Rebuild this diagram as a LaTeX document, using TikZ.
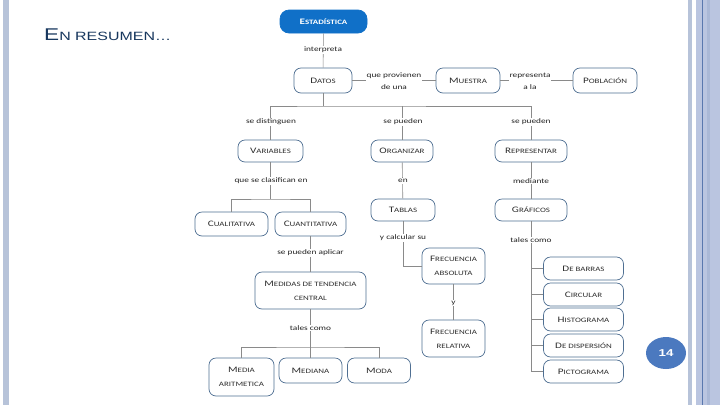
\documentclass[tikz,border=0pt]{standalone}
\usepackage{fontspec}
\setmainfont{Carlito}[FakeStretch=1.33]
\newfontfamily\titlefont{Liberation Sans}[FakeStretch=1.33]
\usetikzlibrary{shapes.geometric}

\definecolor{cajaborde}{HTML}{4F6F92}
\definecolor{cajatexto}{HTML}{2E2E2E}
\definecolor{etiquetatexto}{HTML}{222222}
\definecolor{linea}{HTML}{8A8A8A}
\definecolor{estadazul}{HTML}{1070C8}
\definecolor{titulo}{HTML}{17375E}
\definecolor{numazul}{HTML}{4B79BF}
\definecolor{bordeclaro}{HTML}{B7C3D9}
\definecolor{bordeazul}{HTML}{BAC5E0}
\definecolor{bordemedio}{HTML}{AAB8D6}
\definecolor{bordeoscuro}{HTML}{5A78AE}

\newcommand{\kap}[2]{{\fontsize{8.4}{14}\selectfont #1}{\fontsize{6.7}{14}\selectfont #2}}

\tikzset{
  caja/.style={draw=cajaborde, line width=0.7pt, rounded corners=7pt, fill=white,
    text=cajatexto, align=center, inner sep=0pt, font=\fontsize{6.7}{14}\selectfont},
  etiqueta/.style={fill=white, text=etiquetatexto, inner sep=1pt, align=center,
    font=\fontsize{7}{12}\selectfont},
  enlace/.style={draw=linea, line width=0.6pt},
  numpag/.style={ellipse, fill=numazul, text=white, inner sep=0pt,
    minimum width=40pt, minimum height=32pt, font=\titlefont\bfseries\fontsize{10}{12}\selectfont},
}

\begin{document}
\begin{tikzpicture}[x=1pt, y=-1pt]
    % 页面
    \fill[white] (0,0) rectangle (720,405);
    \useasboundingbox (0,0) rectangle (720,405);
    \fill[bordeclaro] (3,0) rectangle (9,405);
    \fill[bordeclaro] (688,0) rectangle (692,405);
    \fill[bordeazul] (696,0) rectangle (720,405);
    \fill[bordemedio] (707,0) rectangle (710,405);
    \draw[bordeoscuro, line width=1pt] (702.5,0) -- (702.5,405);

    % 标题
    \node[text=titulo, anchor=base west, inner sep=0pt] (titulo) at (44,40)
        {\titlefont{\fontsize{17}{18}\selectfont E}{\fontsize{12}{18}\selectfont N RESUMEN…}};

    % 上层
    \node[caja, fill=estadazul, draw=estadazul, text=white, rounded corners=9pt,
        font=\bfseries\fontsize{6.7}{14}\selectfont, minimum width=87pt, minimum height=23pt]
        (estad) at (323.5,21.5) {\kap{E}{STADÍSTICA}};
    \node[caja, minimum width=58pt, minimum height=25pt] (datos) at (323,80.5) {\kap{D}{ATOS}};
    \node[caja, minimum width=64pt, minimum height=25pt] (muestra) at (468,80.5) {\kap{M}{UESTRA}};
    \node[caja, minimum width=64pt, minimum height=25pt] (poblacion) at (605,80.5) {\kap{P}{OBLACIÓN}};

    % 中层
    \node[caja, minimum width=65pt, minimum height=22pt] (variables) at (270.5,151) {\kap{V}{ARIABLES}};
    \node[caja, minimum width=62pt, minimum height=22pt] (organizar) at (402,151) {\kap{O}{RGANIZAR}};
    \node[caja, minimum width=72pt, minimum height=22pt] (representar) at (531,151) {\kap{R}{EPRESENTAR}};
    \node[caja, minimum width=73pt, minimum height=24pt] (cualitativa) at (231.5,224) {\kap{C}{UALITATIVA}};
    \node[caja, minimum width=71pt, minimum height=24pt] (cuantitativa) at (310.5,224) {\kap{C}{UANTITATIVA}};
    \node[caja, minimum width=64pt, minimum height=22pt] (tablas) at (403,210) {\kap{T}{ABLAS}};
    \node[caja, minimum width=72pt, minimum height=22pt] (graficos) at (531,210) {\kap{G}{RÁFICOS}};

    % 下层
    \node[caja, minimum width=63pt, minimum height=36pt] (frecabs) at (453.5,266)
        {\kap{F}{RECUENCIA}\\\kap{}{ABSOLUTA}};
    \node[caja, minimum width=63pt, minimum height=37pt] (frecrel) at (453.5,338.5)
        {\kap{F}{RECUENCIA}\\\kap{}{RELATIVA}};
    \node[caja, minimum width=111pt, minimum height=37pt] (medidas) at (310.5,290.5)
        {\kap{M}{EDIDAS DE TENDENCIA}\\\kap{}{CENTRAL}};
    \node[caja, minimum width=65pt, minimum height=38pt] (mediaar) at (241.5,377)
        {\kap{M}{EDIA}\\\kap{}{ARITMETICA}};
    \node[caja, minimum width=63pt, minimum height=25pt] (mediana) at (310.5,370.5) {\kap{M}{EDIANA}};
    \node[caja, minimum width=63pt, minimum height=25pt] (moda) at (379,370.5) {\kap{M}{ODA}};

    % 图表种类
    \node[caja, minimum width=80pt, minimum height=23pt] (barras) at (583.5,268.5) {\kap{D}{E BARRAS}};
    \node[caja, minimum width=80pt, minimum height=23pt] (circular) at (583.5,294.5) {\kap{C}{IRCULAR}};
    \node[caja, minimum width=80pt, minimum height=23pt] (histograma) at (583.5,319.5) {\kap{H}{ISTOGRAMA}};
    \node[caja, minimum width=80pt, minimum height=23pt] (dispersion) at (583.5,345.5) {\kap{D}{E DISPERSIÓN}};
    \node[caja, minimum width=80pt, minimum height=23pt] (pictograma) at (583.5,371.5) {\kap{P}{ICTOGRAMA}};

    % 连线
    \coordinate (bus1) at (323,106);
    \coordinate (bus2) at (270.5,199);
    \coordinate (bus3) at (310.5,347);
    \draw[enlace] (estad) -- (datos);
    \draw[enlace] (datos) -- (muestra);
    \draw[enlace] (muestra) -- (poblacion);
    \draw[enlace] (datos) -- (bus1);
    \draw[enlace] (variables) |- (bus1) -| (representar);
    \draw[enlace] (organizar) -- (organizar |- bus1);
    \draw[enlace] (variables) -- (bus2);
    \draw[enlace] (cualitativa) |- (bus2) -| (cuantitativa);
    \draw[enlace] (organizar) -- (tablas);
    \draw[enlace] (representar) -- (graficos);
    \draw[enlace] (tablas) |- (frecabs);
    \draw[enlace] (frecabs) -- (frecrel);
    \draw[enlace] (cuantitativa) -- (medidas);
    \draw[enlace] (medidas) -- (bus3);
    \draw[enlace] (mediaar) |- (bus3) -| (moda);
    \draw[enlace] (mediana) -- (bus3);
    \draw[enlace] (graficos) -- (graficos.south |- pictograma);
    \foreach \g in {barras,circular,histograma,dispersion,pictograma}
        \draw[enlace] (graficos.south |- \g) -- (\g);

    % 标签
    \node[etiqueta] (l-interpreta) at (323,50) {interpreta};
    \node[etiqueta] (l-provienen) at (394,81) {que provienen\\de una};
    \node[etiqueta] (l-representa) at (530,81) {representa\\a la};
    \node[etiqueta] (l-distinguen) at (271,122) {se distinguen};
    \node[etiqueta] (l-pueden1) at (403,122) {se pueden};
    \node[etiqueta] (l-pueden2) at (531,122) {se pueden};
    \node[etiqueta] (l-clasifican) at (271,181) {que se clasifican en};
    \node[etiqueta] (l-en) at (403,181) {en};
    \node[etiqueta] (l-mediante) at (531,181) {mediante};
    \node[etiqueta] (l-calcular) at (403,238) {y calcular su};
    \node[etiqueta] (l-tales1) at (531,240) {tales como};
    \node[etiqueta] (l-aplicar) at (310.5,253) {se pueden aplicar};
    \node[etiqueta] (l-y) at (453.5,303) {y};
    \node[etiqueta] (l-tales2) at (310.5,328) {tales como};

    % 页码
    \node[numpag] (numero) at (666,353) {14};
\end{tikzpicture}
\end{document}
